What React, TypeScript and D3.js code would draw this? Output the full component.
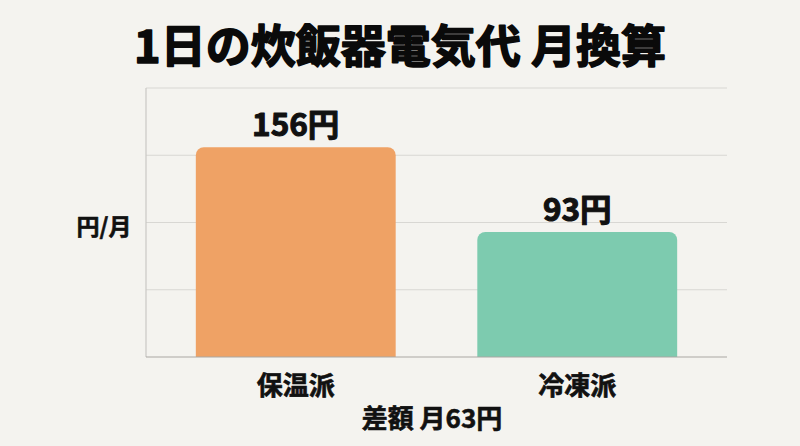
import React from "react";
import * as d3 from "d3";

const categories = ["保温派", "冷凍派"];
const values = [156, 93];
const colors = ["#EFA265", "#7DCBAF"];
const yTicks = [0, 50, 100, 150, 200];
const title = "1日の炊飯器電気代 月換算";
const yLabel = "円/月";
const xLabel = "差額 月63円";

const W = 800;
const H = 446;
const FONT = "'Noto Sans CJK JP', 'Noto Sans', sans-serif";

const App = () => {
  const svgRef = React.useRef<SVGSVGElement>(null);
  const left = 146;
  const right = 727;
  const top = 88;
  const bottom = 357;

  React.useEffect(() => {
    const x = d3.scaleBand<string>()
      .domain(categories)
      .range([left, right])
      .paddingInner(0.29)
      .paddingOuter(0.177);
    const y = d3.scaleLinear().domain([0, 200]).range([bottom, top]);

    const svg = d3.select(svgRef.current);
    svg.selectAll("*").remove();

    svg.append("rect").attr("width", W).attr("height", H).attr("fill", "#F4F3EF");

    // grid lines
    svg.append("g")
      .selectAll("line")
      .data(yTicks.slice(1))
      .enter()
      .append("line")
      .attr("x1", left)
      .attr("x2", right)
      .attr("y1", (d) => y(d))
      .attr("y2", (d) => y(d))
      .attr("stroke", "#D8D7D3")
      .attr("stroke-width", 1);

    // left axis line
    svg.append("line")
      .attr("x1", left).attr("x2", left)
      .attr("y1", y(200)).attr("y2", y(0))
      .attr("stroke", "#C9C8C4").attr("stroke-width", 1.2);

    // bars with rounded top
    const r = 8;
    const barPath = (x0: number, w: number, yt: number, yb: number) => {
      const p = d3.path();
      p.moveTo(x0, yb);
      p.lineTo(x0, yt + r);
      p.arcTo(x0, yt, x0 + r, yt, r);
      p.lineTo(x0 + w - r, yt);
      p.arcTo(x0 + w, yt, x0 + w, yt + r, r);
      p.lineTo(x0 + w, yb);
      p.closePath();
      return p.toString();
    };
    svg.append("g")
      .selectAll("path")
      .data(values)
      .enter()
      .append("path")
      .attr("d", (d, i) => barPath(x(categories[i]) as number, x.bandwidth(), y(d), y(0)))
      .attr("fill", (d, i) => colors[i]);

    // bottom axis line
    svg.append("line")
      .attr("x1", left).attr("x2", right)
      .attr("y1", y(0)).attr("y2", y(0))
      .attr("stroke", "#A9A8A4").attr("stroke-width", 1.2);

    const txt = (sel: any, size: number, sw: number) =>
      sel.attr("text-anchor", "middle")
        .attr("font-family", FONT)
        .attr("font-weight", 700)
        .attr("font-size", size)
        .attr("fill", "#111")
        .attr("stroke", "#111")
        .attr("stroke-width", sw)
        .attr("stroke-linejoin", "round");

    // value labels
    txt(svg.append("g")
      .selectAll("text")
      .data(values)
      .enter()
      .append("text")
      .attr("x", (d, i) => (x(categories[i]) as number) + x.bandwidth() / 2)
      .attr("y", (d) => y(d) - 11)
      .text((d) => `${d}円`), 31.5, 1.1);

    // category labels
    txt(svg.append("g")
      .selectAll("text")
      .data(categories)
      .enter()
      .append("text")
      .attr("x", (d) => (x(d) as number) + x.bandwidth() / 2)
      .attr("y", 395)
      .text((d) => d), 26, 0.7);

    txt(svg.append("text")
      .attr("x", 432)
      .attr("y", 428)
      .text(xLabel), 26, 0.6);

    txt(svg.append("text")
      .attr("x", 104)
      .attr("y", 235)
      .text(yLabel), 23, 0.6);

    txt(svg.append("text")
      .attr("x", 400)
      .attr("y", 63)
      .text(title), 45, 1.6)
      .attr("fill", "#0a0a0a")
      .attr("stroke", "#0a0a0a");
  }, []);

  return (
    <svg
      ref={svgRef}
      width={W}
      height={H}
      style={{ position: "absolute", left: 0, top: 0, display: "block" }}
    />
  );
};

export default App;
